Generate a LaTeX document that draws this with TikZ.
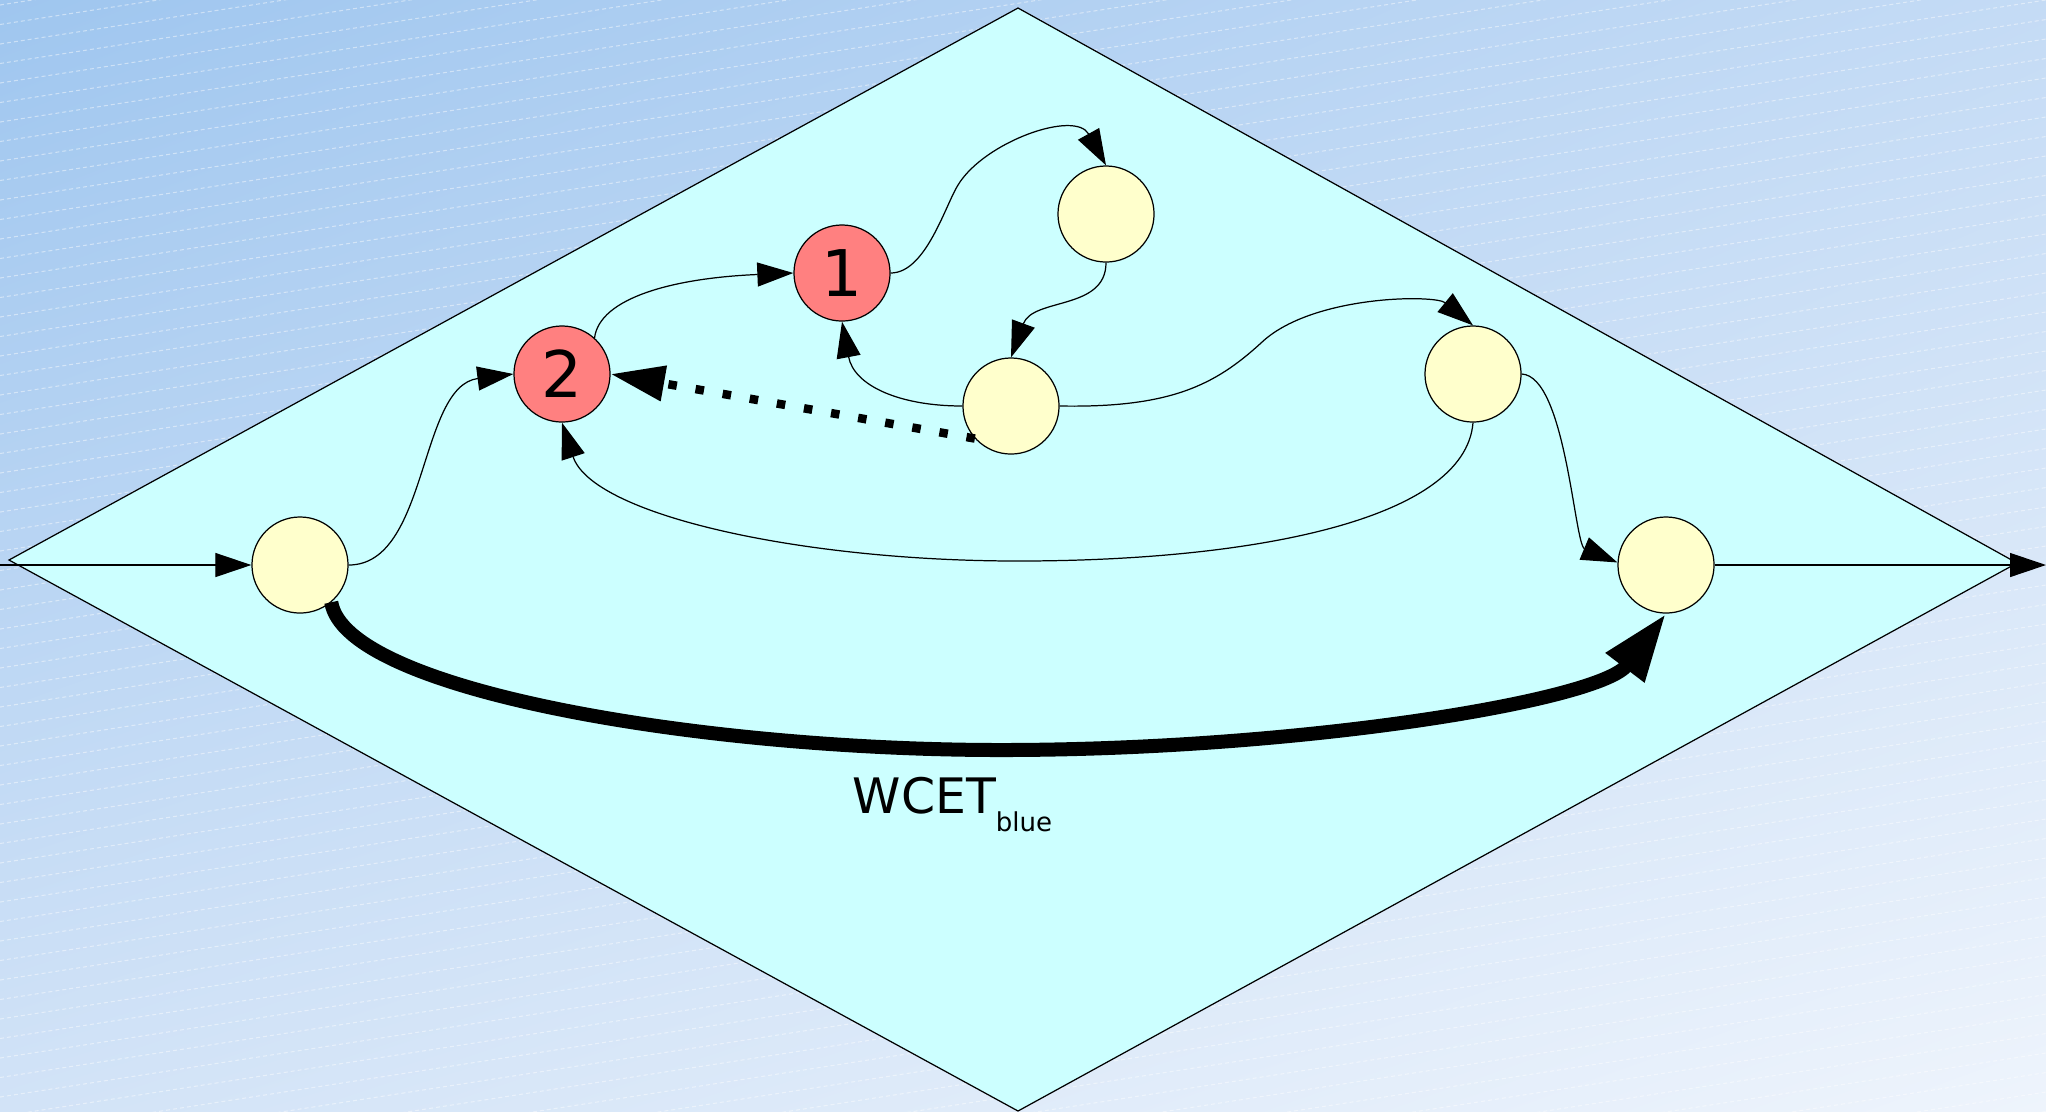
\documentclass[tikz,border=0pt]{standalone}
\usepackage{fontspec}
\setmainfont{DejaVu Sans}
\usetikzlibrary{arrows.meta,shadings}
\definecolor{bgUL}{RGB}{159,198,239}
\definecolor{bgUR}{RGB}{196,219,245}
\definecolor{bgLL}{RGB}{210,227,247}
\definecolor{bgLR}{RGB}{238,244,252}
\definecolor{dia}{RGB}{204,255,255}
\definecolor{nodeY}{RGB}{255,255,204}
\definecolor{nodeR}{RGB}{255,128,128}
\begin{document}
\begin{tikzpicture}[x=0.01cm,y=-0.01cm,
  vertex/.style={circle,draw=black,line width=0.35pt,minimum size=0.96cm,inner sep=0pt,fill=nodeY},
  hot/.style={vertex,fill=nodeR,font=\fontsize{18.3pt}{20pt}\selectfont},
  arr/.style={line width=0.35pt,-{Triangle[length=0.36cm,width=0.24cm]}},
  dotarr/.style={line width=0.085cm,dash pattern=on 0.085cm off 0.19cm,-{Triangle[length=0.54cm,width=0.34cm]}},
  wcet/.style={line width=0.14cm,-{Triangle[length=0.68cm,width=0.45cm]}},
  bgline/.style={white,opacity=0.45,line width=0.3pt,dash pattern=on 0.04cm off 0.03cm},
]
\useasboundingbox (0,0) rectangle (2046,1111);
\shade[upper left=bgUL, upper right=bgUR, lower left=bgLL, lower right=bgLR] (0,0) rectangle (2046,1111);
\begin{scope}
\clip (0,0) rectangle (2046,1111);
\foreach \k in {0,...,75} {
  \draw[bgline] (0,{5+19.5*\k}) -- (2046,{5+19.5*\k-317});
}
\end{scope}
% diamond
\filldraw[fill=dia,draw=black,line width=0.35pt] (9,560) -- (1018,8) -- (2017,563) -- (1018,1111) -- cycle;
% nodes
\node[vertex] (L) at (300,565) {};
\node[hot] (N2) at (562,374) {2};
\node[hot] (N1) at (842,273) {1};
\node[vertex] (T) at (1106,214) {};
\node[vertex] (M) at (1011,406) {};
\node[vertex] (R2) at (1473,374) {};
\node[vertex] (RB) at (1666,565) {};
\coordinate (inpt) at (0,565);
\coordinate (outpt) at (2046,565);
\coordinate (k5) at (958,185);
\coordinate (k8) at (1261,343);
\coordinate (k9) at (1018,561);
\coordinate (kw) at (1001,750);
% edges
\draw[arr] (inpt) -- (L.west);
\draw[arr] (RB.east) -- (outpt);
\draw[arr] (L.east) .. controls +(80,0) and +(-95,12) .. (N2.west);
\draw[arr] (N2.48) .. controls +(5,-40) and +(-120,5) .. (N1.west);
\draw[arr] (N1.east) .. controls +(35,0) and +(-13,21) .. (k5) .. controls +(26,-43) and +(-31,-56) .. (T.north);
\draw[arr] (T.south) .. controls +(0,48) and +(22,-60) .. (M.north);
\draw[arr] (M.west) .. controls +(-63,0) and +(12,64) .. (N1.south);
\draw[arr] (M.east) .. controls +(111,2) and +(-46,42) .. (k8) .. controls +(50,-48) and +(-38,-31) .. (R2.north);
\draw[arr] (R2.south) .. controls +(-8,98) and +(232,0) .. (k9) .. controls +(-218,0) and +(30,92) .. (N2.south);
\draw[arr] (R2.east) .. controls +(44,2) and +(-43,-18) .. (RB.177);
\draw[dotarr] (M.222) -- (N2.east);
\draw[wcet] (L.-50) .. controls +(14,88) and +(-301,0) .. (kw) .. controls +(299,0) and +(-66,87) .. (RB.south);
\node[anchor=base west,inner sep=0pt,font=\fontsize{13.9pt}{16pt}\selectfont] (lbl) at (852,813) {WCET\raisebox{-0.18cm}{\fontsize{7.4pt}{9pt}\selectfont blue}};
\end{tikzpicture}
\end{document}
